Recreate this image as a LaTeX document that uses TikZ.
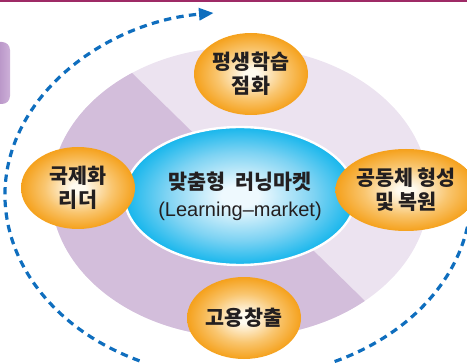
\documentclass[tikz,border=0pt]{standalone}
\usepackage{fontspec}
\usepackage{tikz}
\usetikzlibrary{shapes.geometric,arrows.meta}

\newfontfamily\kor{Noto Sans CJK KR}
\newfontfamily\latn{Liberation Sans}

\definecolor{ringdark}{HTML}{D3BEDB}
\definecolor{ringlight}{HTML}{ECE3F0}
\definecolor{ballorange}{HTML}{F5A11C}
\definecolor{ballmid}{HTML}{F9C56E}
\definecolor{ballglow}{HTML}{FFFBF0}
\definecolor{hubblue}{HTML}{16B6EC}
\definecolor{hubmid}{HTML}{7ED3F3}
\definecolor{hubglow}{HTML}{EEF9FE}
\definecolor{arcblue}{HTML}{0F6EBE}
\definecolor{topline}{HTML}{9E2A66}
\definecolor{tabdark}{HTML}{A277B5}
\definecolor{tablight}{HTML}{CDB0D8}
\definecolor{inktext}{HTML}{231F20}

\pgfdeclareradialshading{orangeball}{\pgfpoint{0bp}{0bp}}{color(0bp)=(ballglow); color(3bp)=(ballglow); color(15bp)=(ballmid); color(25bp)=(ballorange); color(50bp)=(ballorange)}
\pgfdeclareradialshading{hubball}{\pgfpoint{0bp}{0bp}}{color(0bp)=(hubglow); color(4bp)=(hubglow); color(16bp)=(hubmid); color(25bp)=(hubblue); color(50bp)=(hubblue)}

\tikzset{
  bubble/.style={ellipse, inner sep=0pt, minimum width=85.5pt, minimum height=61.5pt,
    shade, shading=orangeball, align=center, text=inktext,
    font=\kor\bfseries\fontsize{15.5}{18}\selectfont},
  hub/.style={ellipse, inner sep=0pt, minimum width=144pt, minimum height=103.5pt,
    shade, shading=hubball, draw=white, line width=1.8pt, align=center, text=inktext,
    font=\kor\fontsize{15.5}{20}\selectfont},
  dashline/.style={draw=arcblue, line width=2.4pt, dash pattern=on 5.5pt off 4pt}
}

\begin{document}
\begin{tikzpicture}[x=0.75pt,y=-0.75pt]
  \useasboundingbox (0,0) rectangle (467,363);
  \begin{scope}
    \clip (0,0) rectangle (467,363);
    % top rule and side tab
    \draw[topline, line width=1.2pt] (0,0.8) -- (467,0.8);
    \shade[left color=tabdark, right color=tablight, rounded corners=6pt] (-14,42) rectangle (10,104);
    % ring split in two halves
    \begin{scope}
      \clip (240,192) ellipse [x radius=189, y radius=145];
      \fill[ringlight] (40,40) rectangle (440,345);
      \fill[ringdark] (15,-41.5) -- (483,416.5) -- (-100,416.5) -- (-100,-41.5) -- cycle;
    \end{scope}
    % dashed cycle
    \draw[dashline, -{Triangle[length=11pt,width=9pt]}] (238,195) ++(115:233 and 183)
      arc[start angle=115, end angle=264, x radius=233, y radius=183];
    \draw[dashline] (238,195) ++(10:233 and 183)
      arc[start angle=10, end angle=66, x radius=233, y radius=183];
    % nodes
    \node[hub] (hub) at (240,196) {\bfseries 맞춤형~~러닝마켓\\{\latn\fontsize{15}{20}\selectfont(Learning–market)}};
    \node[bubble] (lifelong) at (251,74) {평생학습\\점화};
    \node[bubble] (global) at (78,188) {국제화\\리더};
    \node[bubble] (community) at (406,190) {공동체 형성\\및 복원};
    \node[bubble] (jobs) at (244,318) {고용창출};
  \end{scope}
\end{tikzpicture}
\end{document}
